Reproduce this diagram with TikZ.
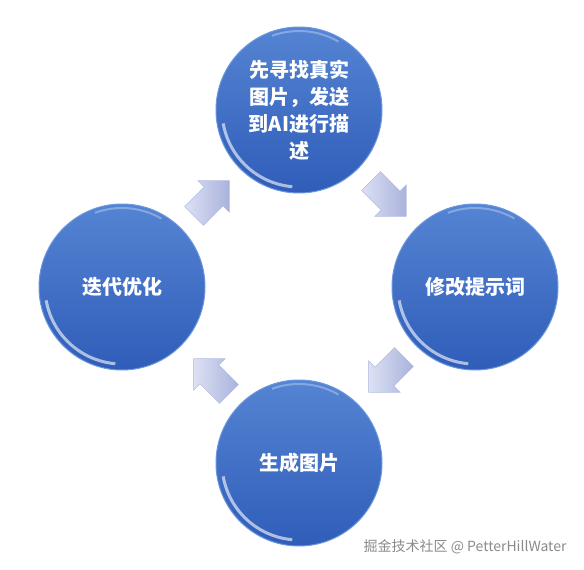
\documentclass[tikz,border=0pt]{standalone}
\usepackage{fontspec}
\setmainfont{Noto Sans CJK SC}
\usetikzlibrary{shapes.arrows}

\definecolor{ballTop}{HTML}{5584D3}
\definecolor{ballBot}{HTML}{2F5DB9}
\definecolor{ballRim}{HTML}{6B97DF}
\definecolor{arrowLight}{HTML}{DCE1F4}
\definecolor{arrowDark}{HTML}{A9B2DC}
\definecolor{markGray}{HTML}{8A8A8A}

\tikzset{
  stepball/.style={circle, minimum size=166pt, inner sep=0pt,
    top color=ballTop, bottom color=ballBot, draw=ballRim, line width=1pt,
    text=white, align=center, font=\bfseries\fontsize{20}{27}\selectfont,
    path picture={
      \draw[white, opacity=.6, line width=3pt]
        (path picture bounding box.center) ++(190:77pt) arc (190:265:77pt);
      \draw[white, opacity=.3, line width=2pt]
        (path picture bounding box.center) ++(60:79pt) arc (60:110:79pt);
    }},
  flowarrow/.style={single arrow, minimum height=50pt, inner xsep=0pt, inner ysep=13pt,
    single arrow head extend=9pt, single arrow tip angle=90,
    left color=arrowLight, right color=arrowDark, draw=arrowDark!85, line width=.6pt}
}

\begin{document}
\begin{tikzpicture}[x=1pt,y=-1pt]
\useasboundingbox (0,0) rectangle (584,570);

% circles
\node[stepball] (find) at (299,110) {先寻找真实\\图片，发送\\到AI进行描\\述};
\node[stepball] (edit) at (475,287) {修改提示词};
\node[stepball] (gen) at (299,463) {生成图片};
\node[stepball] (iter) at (122,287) {迭代优化};

% arrows between steps
\node[flowarrow, rotate=-45] (a1) at (384,194) {};
\node[flowarrow, rotate=-135] (a2) at (391,370) {};
\node[flowarrow, rotate=135] (a3) at (216,381) {};
\node[flowarrow, rotate=45] (a4) at (207,203) {};

% watermark
\node[anchor=east, text=markGray, font=\fontsize{14}{16}\selectfont] (mark) at (570,547) {掘金技术社区 @ PetterHillWater};
\end{tikzpicture}
\end{document}
